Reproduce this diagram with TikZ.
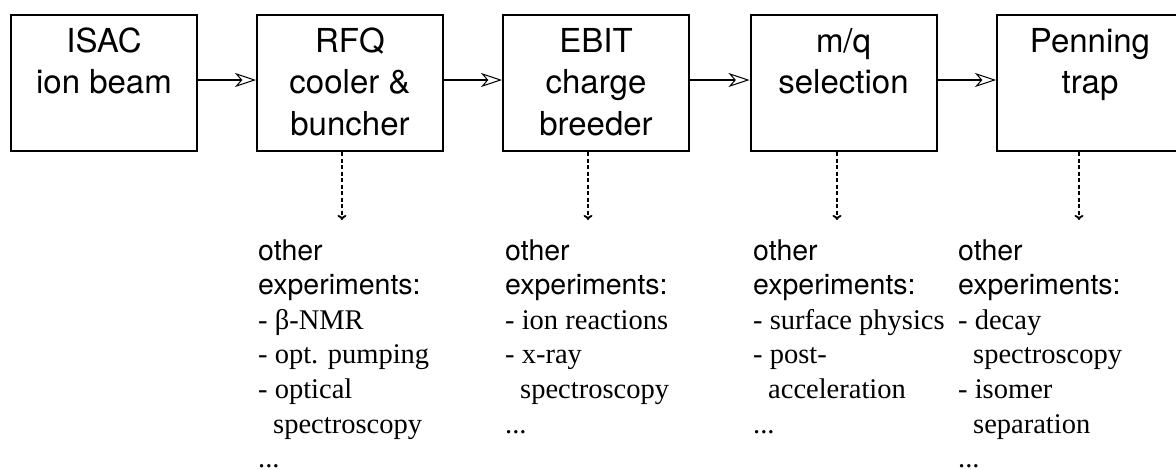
\documentclass[tikz,border=0pt]{standalone}
\usepackage{fontspec}
\setmainfont{Liberation Serif}
\setsansfont{TeX Gyre Heros}
\usetikzlibrary{arrows.meta}
\begin{document}
\begin{tikzpicture}[x=1pt,y=-1pt,
  stage/.style={draw,line width=2pt,minimum width=186pt,minimum height=136pt,inner sep=0pt},
  stagetext/.style={anchor=base,inner sep=0pt,font=\sffamily\fontsize{33}{41.5}\selectfont},
  flow/.style={line width=2pt,-{Stealth[open,length=21pt,width=14pt,inset=6pt,line width=1pt]}},
  branch/.style={line width=1.6pt,dash pattern=on 4pt off 2.5pt,-{To[length=5pt,width=9pt,line width=1.8pt]}},
  others/.style={anchor=base west,inner sep=0pt,font=\fontsize{28.5}{34.6}\selectfont}]
\useasboundingbox (0,0) rectangle (1176,469);

% stages
\node[stage] (b1) at (104,83) {};
\node[stage] (b2) at (350,83) {};
\node[stage] (b3) at (596,83) {};
\node[stage] (b4) at (843.5,83) {};
\node[stage] (b5) at (1090,83) {};

\node[stagetext] (t1) at ([yshift=-38pt]b1.north) {\parbox[t]{186pt}{\centering ISAC\\ion beam}};
\node[stagetext] (t2) at ([yshift=-38pt]b2.north) {\parbox[t]{186pt}{\centering RFQ\\cooler \&\\buncher}};
\node[stagetext] (t3) at ([yshift=-38pt]b3.north) {\parbox[t]{186pt}{\centering EBIT\\charge\\breeder}};
\node[stagetext] (t4) at ([yshift=-38pt]b4.north) {\parbox[t]{186pt}{\centering m/q\\selection}};
\node[stagetext] (t5) at ([yshift=-38pt]b5.north) {\parbox[t]{186pt}{\centering Penning\\trap}};

% main flow
\draw[flow] ([yshift=3pt]b1.east) -- ([yshift=3pt]b2.west);
\draw[flow] ([yshift=3pt]b2.east) -- ([yshift=3pt]b3.west);
\draw[flow] ([yshift=3pt]b3.east) -- ([yshift=3pt]b4.west);
\draw[flow] ([yshift=3pt]b4.east) -- ([yshift=3pt]b5.west);

% branches
\coordinate (e2) at (342,220);
\coordinate (e3) at (588,220);
\coordinate (e4) at (837,220);
\coordinate (e5) at (1079,220);
\draw[branch] (e2 |- b2.south) -- (e2);
\draw[branch] (e3 |- b3.south) -- (e3);
\draw[branch] (e4 |- b4.south) -- (e4);
\draw[branch] (e5 |- b5.south) -- (e5);

% other experiments
\node[others] (o2) at (258,260) {\parbox[t]{240pt}{\raggedright\sffamily other\\experiments:\\\rmfamily - β-NMR\\- opt. pumping\\- optical\\\hspace*{15pt}spectroscopy\\...}};
\node[others] (o3) at (505,260) {\parbox[t]{240pt}{\raggedright\sffamily other\\experiments:\\\rmfamily - ion reactions\\- x-ray\\\hspace*{15pt}spectroscopy\\...}};
\node[others] (o4) at (753,260) {\parbox[t]{240pt}{\raggedright\sffamily other\\experiments:\\\rmfamily - surface physics\\- post-\\\hspace*{15pt}acceleration\\...}};
\node[others] (o5) at (958,260) {\parbox[t]{240pt}{\raggedright\sffamily other\\experiments:\\\rmfamily - decay\\\hspace*{15pt}spectroscopy\\- isomer\\\hspace*{15pt}separation\\...}};
\end{tikzpicture}
\end{document}
